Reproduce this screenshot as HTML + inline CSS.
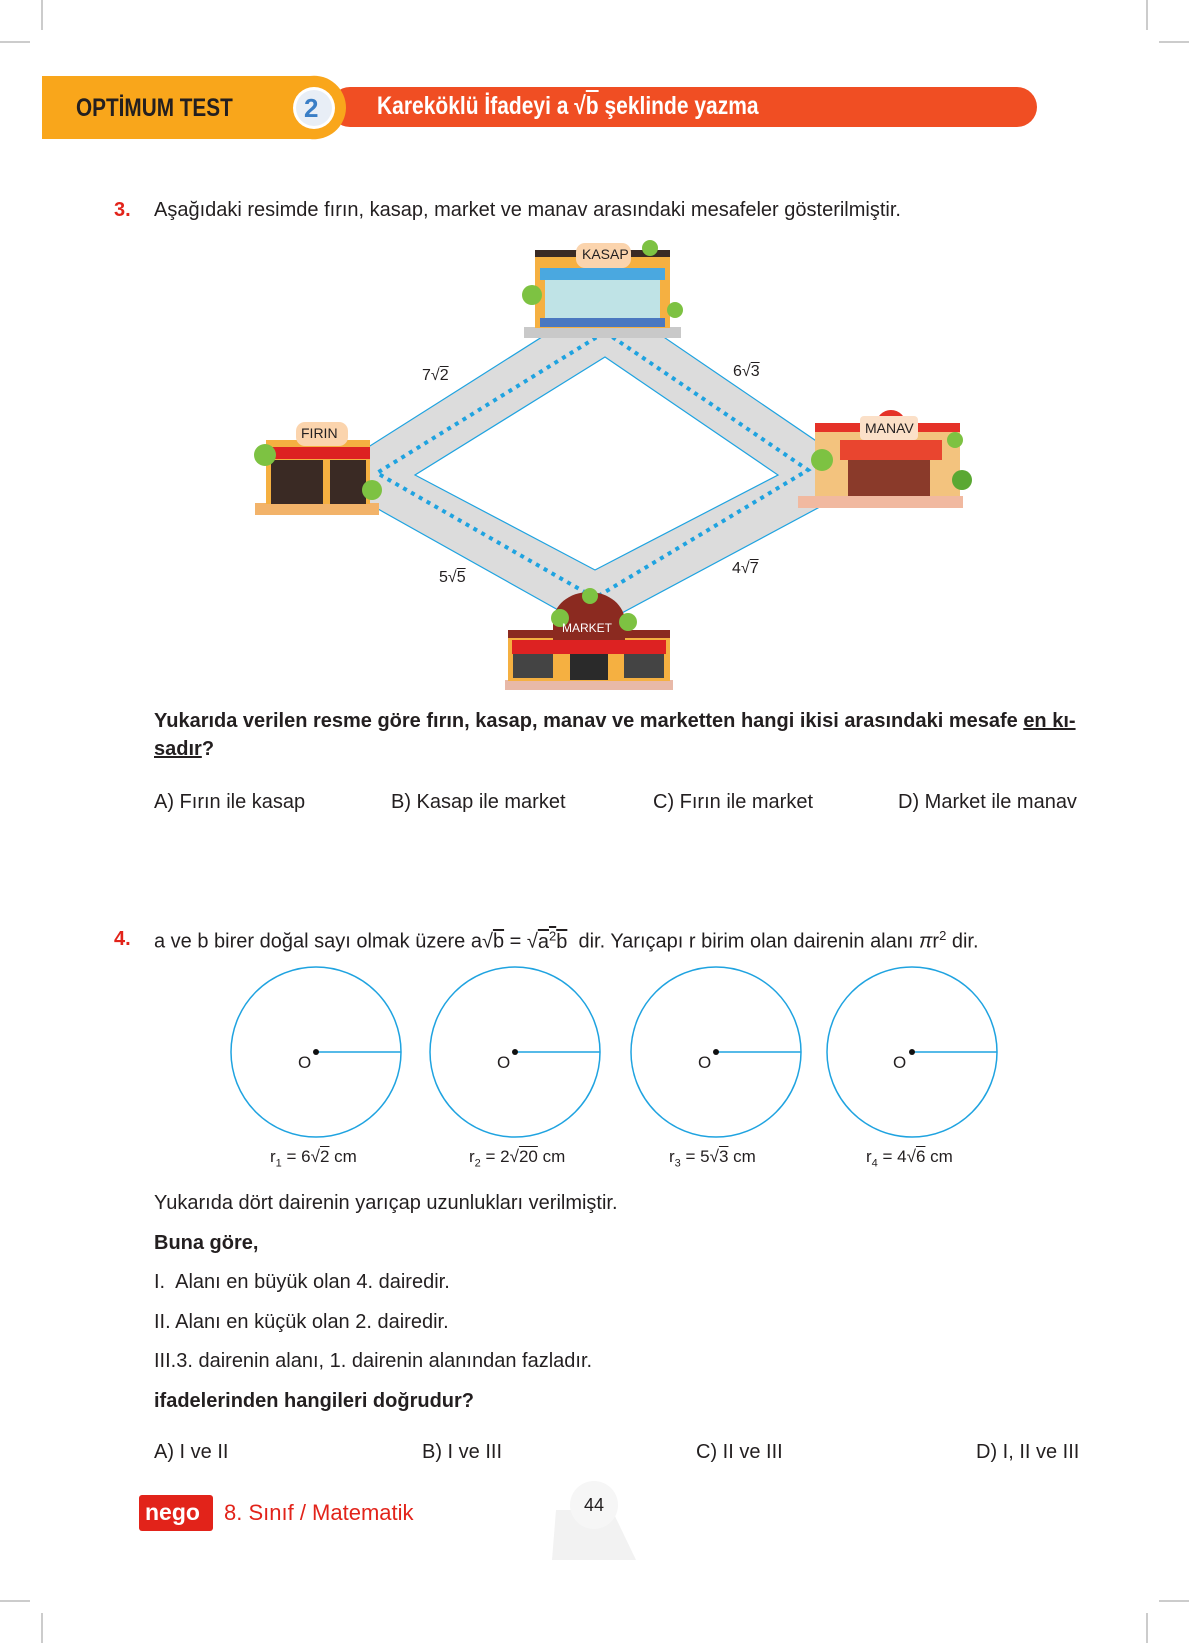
<!DOCTYPE html>
<html><head><meta charset="utf-8"><style>
body{margin:0;background:#fff;}
.p{position:relative;width:1189px;height:1643px;overflow:hidden;font-family:"Liberation Sans",sans-serif;color:#231f20;}
.t{position:absolute;font-size:20px;white-space:nowrap;}
.b{font-weight:bold;}
.n{color:#e2231a;font-weight:bold;}
.sq{text-decoration:overline;}
</style></head><body><div class="p">
<svg width="1189" height="1643" style="position:absolute;left:0;top:0">
<g stroke="#999" stroke-width="1"><line x1="42" y1="0" x2="42" y2="30"/><line x1="0" y1="42" x2="30" y2="42"/><line x1="1147" y1="0" x2="1147" y2="30"/><line x1="1159" y1="42" x2="1189" y2="42"/><line x1="42" y1="1613" x2="42" y2="1643"/><line x1="0" y1="1601" x2="30" y2="1601"/><line x1="1147" y1="1613" x2="1147" y2="1643"/><line x1="1159" y1="1601" x2="1189" y2="1601"/></g>
<rect x="330" y="87" width="707" height="40" rx="20" fill="#f04e23"/>
<path d="M42 76 H310 A32 32 0 0 1 346 108 A32 32 0 0 1 310 139 H42 Z" fill="#f9a61b"/>
<circle cx="314" cy="108" r="21" fill="#fff"/>
<circle cx="314" cy="108" r="18" fill="#e8eef6"/>
<!-- road -->
<polygon points="605,297 872,479 592,629 321,477" fill="#dcdcdc" stroke="#1fa3e0" stroke-width="1.2"/>
<polygon points="605,357 778,475 595,570 415,475" fill="#fff" stroke="#1fa3e0" stroke-width="1.2"/>
<polygon points="605,332 808,470 595,598 377,473" fill="none" stroke="#1fa3e0" stroke-width="4" stroke-dasharray="4,5"/>
<!-- KASAP -->
<rect x="524" y="327" width="157" height="11" fill="#c9c9c9"/>
<rect x="535" y="253" width="135" height="75" fill="#f5b041"/>
<rect x="535" y="250" width="135" height="7" fill="#3a2a24"/>
<rect x="540" y="268" width="125" height="12" fill="#4aa8e0"/>
<rect x="545" y="280" width="115" height="40" fill="#bfe3e6"/>
<rect x="540" y="318" width="125" height="9" fill="#4a78c0"/>
<circle cx="532" cy="295" r="10" fill="#7dc242"/><circle cx="675" cy="310" r="8" fill="#7dc242"/><circle cx="650" cy="248" r="8" fill="#7dc242"/>
<rect x="576" y="243" width="55" height="25" rx="9" fill="#fbd4ad"/>
<!-- FIRIN -->
<rect x="255" y="503" width="124" height="12" fill="#f2b36a"/>
<rect x="266" y="440" width="104" height="64" fill="#f5b041"/>
<rect x="266" y="447" width="104" height="12" fill="#d22"/>
<rect x="271" y="460" width="52" height="44" fill="#3a2a24"/><rect x="330" y="460" width="36" height="44" fill="#3a2a24"/>
<circle cx="265" cy="455" r="11" fill="#7dc242"/><circle cx="372" cy="490" r="10" fill="#7dc242"/>
<rect x="296" y="422" width="52" height="24" rx="9" fill="#fbd4ad"/>
<!-- MANAV -->
<rect x="798" y="496" width="165" height="12" fill="#f1b9a0"/>
<rect x="815" y="430" width="145" height="66" fill="#f3c37e"/>
<rect x="815" y="423" width="145" height="9" fill="#e53228"/>
<circle cx="891" cy="425" r="15" fill="#e53228"/>
<rect x="840" y="440" width="102" height="20" fill="#e9452f"/>
<rect x="848" y="460" width="82" height="36" fill="#8a3a2a"/>
<circle cx="822" cy="460" r="11" fill="#7dc242"/><circle cx="962" cy="480" r="10" fill="#5aa832"/><circle cx="955" cy="440" r="8" fill="#7dc242"/>
<rect x="860" y="416" width="58" height="24" rx="4" fill="#fbe0c8"/>
<!-- MARKET -->
<rect x="505" y="680" width="168" height="10" fill="#e8b9a8"/>
<rect x="508" y="635" width="162" height="46" fill="#f5b041"/>
<rect x="508" y="630" width="162" height="8" fill="#8b2a20"/>
<rect x="512" y="640" width="154" height="14" fill="#d22"/>
<rect x="513" y="654" width="40" height="24" fill="#444"/><rect x="624" y="654" width="40" height="24" fill="#444"/><rect x="570" y="654" width="38" height="26" fill="#2a2a2a"/>
<path d="M553 640 V622 A36 30 0 0 1 625 622 V640 Z" fill="#8b2a20"/>
<circle cx="560" cy="618" r="9" fill="#7dc242"/><circle cx="628" cy="622" r="9" fill="#7dc242"/><circle cx="590" cy="596" r="8" fill="#7dc242"/>
<g fill="none" stroke="#1fa3e0" stroke-width="1.5">
<circle cx="316" cy="1052" r="85"/><line x1="316" y1="1052" x2="401" y2="1052"/>
<circle cx="515" cy="1052" r="85"/><line x1="515" y1="1052" x2="600" y2="1052"/>
<circle cx="716" cy="1052" r="85"/><line x1="716" y1="1052" x2="801" y2="1052"/>
<circle cx="912" cy="1052" r="85"/><line x1="912" y1="1052" x2="997" y2="1052"/>
</g>
<g fill="#111"><circle cx="316" cy="1052" r="3"/><circle cx="515" cy="1052" r="3"/><circle cx="716" cy="1052" r="3"/><circle cx="912" cy="1052" r="3"/></g>
<rect x="139" y="1495" width="74" height="36" rx="3" fill="#e2231a"/>
<path d="M556 1510 L612 1510 L636 1560 L552 1560 Z" fill="#f2f2f2"/>
<circle cx="594" cy="1505" r="24" fill="#f6f6f6"/>
</svg>
<div class="t b" style="left:76px;top:94px;font-size:25px;transform:scaleX(.83);transform-origin:left">OPTİMUM TEST</div>
<div class="t b" style="left:304px;top:93px;font-size:26px;color:#3a7ec6">2</div>
<div class="t b" style="left:377px;top:92px;font-size:25px;color:#fff;transform:scaleX(.84);transform-origin:left">Kareköklü İfadeyi a √<span class="sq">b</span> şeklinde yazma</div>
<div class="t n" style="left:114px;top:199px">3.</div>
<div class="t" style="left:154px;top:199px">Aşağıdaki resimde fırın, kasap, market ve manav arasındaki mesafeler gösterilmiştir.</div>
<div class="t" style="left:582px;top:246px;font-size:14px">KASAP</div>
<div class="t" style="left:301px;top:425px;font-size:14px">FIRIN</div>
<div class="t" style="left:865px;top:420px;font-size:14px">MANAV</div>
<div class="t" style="left:562px;top:621px;font-size:12px;color:#fff">MARKET</div>
<div class="t" style="left:422px;top:367px;font-size:16px">7√<span class="sq">2</span></div>
<div class="t" style="left:733px;top:363px;font-size:16px">6√<span class="sq">3</span></div>
<div class="t" style="left:439px;top:569px;font-size:16px">5√<span class="sq">5</span></div>
<div class="t" style="left:732px;top:560px;font-size:16px">4√<span class="sq">7</span></div>
<div class="t b" style="left:154px;top:710px">Yukarıda verilen resme göre fırın, kasap, manav ve marketten hangi ikisi arasındaki mesafe <u>en kı-</u></div>
<div class="t b" style="left:154px;top:738px"><u>sadır</u>?</div>
<div class="t" style="left:154px;top:791px">A) Fırın ile kasap</div>
<div class="t" style="left:391px;top:791px">B) Kasap ile market</div>
<div class="t" style="left:653px;top:791px">C) Fırın ile market</div>
<div class="t" style="left:898px;top:791px">D) Market ile manav</div>
<div class="t n" style="left:114px;top:928px">4.</div>
<div class="t" style="left:154px;top:928px">a ve b birer doğal sayı olmak üzere a√<span class="sq">b</span> = √<span class="sq">a<sup style="font-size:13px">2</sup>b</span>&nbsp; dir. Yarıçapı r birim olan dairenin alanı <i>π</i>r<sup style="font-size:13px">2</sup> dir.</div>
<div class="t" style="left:298px;top:1053px;font-size:17px">O</div>
<div class="t" style="left:497px;top:1053px;font-size:17px">O</div>
<div class="t" style="left:698px;top:1053px;font-size:17px">O</div>
<div class="t" style="left:893px;top:1053px;font-size:17px">O</div>
<div class="t" style="left:270px;top:1147px;font-size:17px">r<sub style="font-size:11px">1</sub> = 6√<span class="sq">2</span> cm</div>
<div class="t" style="left:469px;top:1147px;font-size:17px">r<sub style="font-size:11px">2</sub> = 2√<span class="sq">20</span> cm</div>
<div class="t" style="left:669px;top:1147px;font-size:17px">r<sub style="font-size:11px">3</sub> = 5√<span class="sq">3</span> cm</div>
<div class="t" style="left:866px;top:1147px;font-size:17px">r<sub style="font-size:11px">4</sub> = 4√<span class="sq">6</span> cm</div>
<div class="t" style="left:154px;top:1192px">Yukarıda dört dairenin yarıçap uzunlukları verilmiştir.</div>
<div class="t b" style="left:154px;top:1232px">Buna göre,</div>
<div class="t" style="left:154px;top:1271px">I.&nbsp; Alanı en büyük olan 4. dairedir.</div>
<div class="t" style="left:154px;top:1311px">II. Alanı en küçük olan 2. dairedir.</div>
<div class="t" style="left:154px;top:1350px">III.3. dairenin alanı, 1. dairenin alanından fazladır.</div>
<div class="t b" style="left:154px;top:1390px">ifadelerinden hangileri doğrudur?</div>
<div class="t" style="left:154px;top:1441px">A) I ve II</div>
<div class="t" style="left:422px;top:1441px">B) I ve III</div>
<div class="t" style="left:696px;top:1441px">C) II ve III</div>
<div class="t" style="left:976px;top:1441px">D) I, II ve III</div>
<div class="t b" style="left:145px;top:1499px;font-size:23px;color:#fff">nego</div>
<div class="t" style="left:224px;top:1500px;font-size:22px;color:#e2231a">8. Sınıf / Matematik</div>
<div class="t" style="left:584px;top:1495px;font-size:18px">44</div>
</div></body></html>
